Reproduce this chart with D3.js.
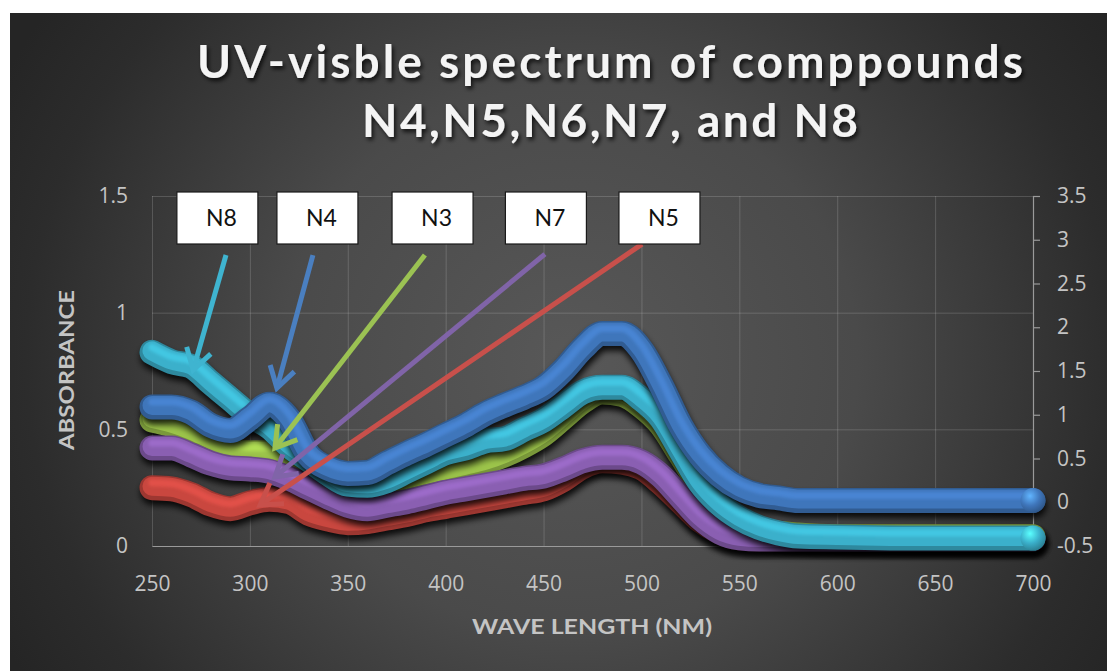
<!DOCTYPE html>
<html>
<head>
<meta charset="utf-8">
<script src="https://cdn.jsdelivr.net/npm/d3@7"></script>
<style>
  html, body { margin: 0; padding: 0; background: #ffffff; }
  svg { display: block; }
</style>
</head>
<body>
<svg id="chart" width="1107" height="671"></svg>
<script>
// Wavelength grid (nm)
const wavelengths = [250,260,270,280,290,300,310,320,330,340,350,360,370,380,390,400,410,420,430,440,
                     450,460,470,480,490,500,510,520,530,540,550,560,570,580,600,650,700];

// Absorbance of each compound (N4 is read on the secondary axis)
const n4 = [1.09,1.09,1.03,0.88,0.82,0.96,1.12,0.95,0.54,0.39,0.33,0.34,0.45,0.56,0.66,0.77,0.88,1.01,1.11,1.20,
            1.31,1.51,1.76,1.93,1.93,1.74,1.34,0.88,0.54,0.31,0.16,0.08,0.05,0.02,0.02,0.02,0.02];
const n8 = [0.83,0.79,0.77,0.70,0.63,0.56,0.51,0.43,0.37,0.31,0.265,0.26,0.28,0.32,0.36,0.40,0.42,0.45,0.46,0.50,
            0.54,0.60,0.66,0.68,0.68,0.63,0.55,0.41,0.27,0.18,0.12,0.08,0.056,0.043,0.039,0.034,0.034];
const n3 = [0.54,0.52,0.49,0.45,0.41,0.40,0.40,0.36,0.29,0.25,0.23,0.24,0.26,0.28,0.30,0.32,0.34,0.36,0.39,0.43,
            0.48,0.55,0.62,0.66,0.65,0.60,0.52,0.39,0.26,0.16,0.11,0.07,0.055,0.047,0.04,0.04,0.04];
const n7 = [0.42,0.42,0.39,0.355,0.335,0.33,0.32,0.29,0.25,0.21,0.175,0.16,0.175,0.19,0.21,0.23,0.245,0.26,0.275,0.29,
            0.30,0.33,0.365,0.38,0.38,0.36,0.30,0.21,0.12,0.06,0.035,0.03,0.03,0.03,0.03,0.03,0.03];
const n5 = [0.25,0.245,0.22,0.18,0.16,0.185,0.20,0.19,0.14,0.115,0.10,0.105,0.12,0.135,0.155,0.17,0.185,0.20,0.215,0.23,
            0.245,0.285,0.34,0.365,0.36,0.335,0.27,0.19,0.11,0.06,0.035,0.03,0.03,0.03,0.03,0.03,0.03];

// Tick values
const xTicks = [250,300,350,400,450,500,550,600,650,700];
const yLeftTicks = [0,0.5,1,1.5];
const yRightTicks = [-0.5,0,0.5,1,1.5,2,2.5,3,3.5];

// Callout labels: box centre wavelength, arrow tail and tip (wavelength, primary-axis absorbance)
const calloutNames   = ["N8","N4","N3","N7","N5"];
const calloutBoxWl   = [283.4,334.5,393.3,451.2,509.2];
const calloutTailWl  = [287.8,332.2,389.4,450.7,500.3];
const calloutTailAbs = [1.247,1.247,1.247,1.251,1.294];
const calloutTipWl   = [271.0,313.8,312.8,312.8,305.2];
const calloutTipAbs  = [0.754,0.677,0.42,0.296,0.176];
const calloutColors  = ["#3fb4d0","#4a7fc0","#9bc253","#8064a8","#c8504b"];

const svg = d3.select("#chart");
const W = 1107, H = 671;

const x  = d3.scaleLinear().domain([250,700]).range([152,1033]);
const yL = d3.scaleLinear().domain([0,1.5]).range([546,196]);
const yR = d3.scaleLinear().domain([-0.5,3.5]).range([546,196]);

const defs = svg.append("defs");

// Background radial shading
const bg = defs.append("radialGradient").attr("id","bgGrad")
  .attr("gradientUnits","userSpaceOnUse").attr("cx",570).attr("cy",360).attr("r",640)
  .attr("gradientTransform","translate(570,360) scale(1,0.95) translate(-570,-360)");
bg.append("stop").attr("offset",0).attr("stop-color","#585858");
bg.append("stop").attr("offset",0.45).attr("stop-color","#4a4a4a");
bg.append("stop").attr("offset",0.85).attr("stop-color","#2c2c2c");
bg.append("stop").attr("offset",1).attr("stop-color","#252525");

defs.append("filter").attr("id","tubeShadow").attr("x","-10%").attr("y","-10%").attr("width","120%").attr("height","130%")
  .append("feGaussianBlur").attr("stdDeviation",3);
defs.append("filter").attr("id","soft").attr("x","-10%").attr("y","-10%").attr("width","120%").attr("height","130%")
  .append("feGaussianBlur").attr("stdDeviation",1.6);
const ts = defs.append("filter").attr("id","titleShadow").attr("x","-5%").attr("y","-20%").attr("width","110%").attr("height","150%");
ts.append("feDropShadow").attr("dx",2).attr("dy",3).attr("stdDeviation",2).attr("flood-color","#000").attr("flood-opacity",0.75);

svg.append("rect").attr("x",10).attr("y",13).attr("width",W-10).attr("height",H-13).attr("fill","url(#bgGrad)");

const uiFont = "Lato, 'Open Sans', 'DejaVu Sans', sans-serif";

// Title
const title = svg.append("g").attr("filter","url(#titleShadow)")
  .attr("font-family",uiFont).attr("font-weight",700)
  .attr("fill","#f4f4f4").attr("text-anchor","middle");
title.append("text").attr("x",610).attr("y",78).attr("font-size",46)
  .attr("textLength",826).attr("lengthAdjust","spacing").text("UV-visble spectrum of comppounds");
title.append("text").attr("x",610).attr("y",137).attr("font-size",46)
  .attr("textLength",496).attr("lengthAdjust","spacing").text("N4,N5,N6,N7, and N8");

// Grid
const grid = svg.append("g").attr("stroke","rgba(255,255,255,0.16)").attr("stroke-width",1);
xTicks.forEach(t => grid.append("line").attr("x1",x(t)+0.5).attr("x2",x(t)+0.5).attr("y1",yL(1.5)).attr("y2",yL(0)));
yLeftTicks.forEach(t => grid.append("line").attr("x1",x(250)).attr("x2",x(700)).attr("y1",yL(t)+0.5).attr("y2",yL(t)+0.5));

const tickFont = "'Open Sans', 'DejaVu Sans', sans-serif";
function styleAxis(g){
  g.selectAll("text").attr("fill","#c4c4c4").attr("font-size",21).attr("font-family",tickFont);
}
const plain = d => String(d);

// Bottom axis
const xAxis = svg.append("g").attr("transform",`translate(0,${yL(0)})`)
  .call(d3.axisBottom(x).tickValues(xTicks).tickSize(0).tickPadding(30).tickFormat(plain));
xAxis.select(".domain").attr("stroke","#9a9a9a").attr("stroke-width",1.2);
styleAxis(xAxis);

// Left axis
const yAxisL = svg.append("g").attr("transform",`translate(${x(250)},0)`)
  .call(d3.axisLeft(yL).tickValues(yLeftTicks).tickSize(0).tickPadding(24).tickFormat(plain));
yAxisL.select(".domain").remove();
styleAxis(yAxisL);

// Right (secondary) axis
const yAxisR = svg.append("g").attr("transform",`translate(${x(700)},0)`)
  .call(d3.axisRight(yR).tickValues(yRightTicks).tickSizeOuter(0).tickSize(7).tickPadding(17).tickFormat(plain));
yAxisR.select(".domain").attr("stroke","#9a9a9a").attr("stroke-width",1.2);
yAxisR.selectAll(".tick line").attr("stroke","#9a9a9a").attr("stroke-width",1.2);
styleAxis(yAxisR);

// Axis titles
svg.append("text").attr("transform","translate(74,370) rotate(-90)")
  .attr("text-anchor","middle").attr("font-family",uiFont).attr("font-weight",700)
  .attr("font-size",20).attr("fill","#c4c4c4").attr("textLength",160).attr("lengthAdjust","spacingAndGlyphs")
  .text("ABSORBANCE");
svg.append("text").attr("x",592).attr("y",634)
  .attr("text-anchor","middle").attr("font-family",uiFont).attr("font-weight",700)
  .attr("font-size",20).attr("fill","#c4c4c4").attr("textLength",240).attr("lengthAdjust","spacingAndGlyphs")
  .text("WAVE LENGTH (NM)");

// Series, drawn back to front
const series = [
  {name:"N5", values:n5, scale:yL, color:"#c9473f"},
  {name:"N3", values:n3, scale:yL, color:"#9cc44a"},
  {name:"N7", values:n7, scale:yL, color:"#8a5fb2"},
  {name:"N8", values:n8, scale:yL, color:"#3bb0cb", endMarker:true},
  {name:"N4", values:n4, scale:yR, color:"#3f76bb", endMarker:true}
];

const tubes = svg.append("g");
series.forEach((s, si) => {
  const pts = wavelengths.map((w,i) => [x(w), s.scale(s.values[i])]);
  const line = d3.line().curve(d3.curveMonotoneX);
  const d = line(pts);
  const g = tubes.append("g").attr("fill","none").attr("stroke-linecap","round").attr("stroke-linejoin","round");
  const base = d3.color(s.color);
  g.append("path").attr("d",d).attr("stroke","#000").attr("stroke-opacity",0.85).attr("stroke-width",25)
    .attr("transform","translate(1,5)").attr("filter","url(#tubeShadow)");
  g.append("path").attr("d",d).attr("stroke",base.darker(0.7)).attr("stroke-width",25);
  g.append("path").attr("d",d).attr("stroke",base).attr("stroke-width",19).attr("transform","translate(0,-1.5)");
  g.append("path").attr("d",d).attr("stroke",base.brighter(0.7)).attr("stroke-opacity",0.45)
    .attr("stroke-width",7).attr("transform","translate(0,-5)").attr("filter","url(#soft)");

  if (s.endMarker) {
    const gid = "sphere" + si;
    const rg = defs.append("radialGradient").attr("id",gid).attr("cx","38%").attr("cy","32%").attr("r","70%");
    rg.append("stop").attr("offset",0).attr("stop-color",base.brighter(1.2));
    rg.append("stop").attr("offset",0.55).attr("stop-color",base);
    rg.append("stop").attr("offset",1).attr("stop-color",base.darker(0.9));
    const last = pts[pts.length-1];
    g.append("circle").attr("cx",last[0]).attr("cy",last[1]).attr("r",12.5).attr("fill",`url(#${gid})`);
  }
});

// Callouts
const callouts = svg.append("g");
calloutNames.forEach((name,i) => {
  const tx = x(calloutTailWl[i]), ty = yL(calloutTailAbs[i]);
  const px = x(calloutTipWl[i]),  py = yL(calloutTipAbs[i]);
  const ang = Math.atan2(py - ty, px - tx);
  const len = 24, spread = 0.55;
  const a1 = [px - len*Math.cos(ang - spread), py - len*Math.sin(ang - spread)];
  const a2 = [px - len*Math.cos(ang + spread), py - len*Math.sin(ang + spread)];
  callouts.append("line").attr("x1",tx).attr("y1",ty).attr("x2",px).attr("y2",py)
    .attr("stroke",calloutColors[i]).attr("stroke-width",5);
  callouts.append("path").attr("d",`M${a1[0]},${a1[1]}L${px},${py}L${a2[0]},${a2[1]}`)
    .attr("fill","none").attr("stroke",calloutColors[i]).attr("stroke-width",5).attr("stroke-linejoin","miter");

  const cx = x(calloutBoxWl[i]);
  callouts.append("rect").attr("x",cx-40.5).attr("y",192).attr("width",81).attr("height",52)
    .attr("fill","#ffffff").attr("stroke","#1a1a1a").attr("stroke-width",1.2);
  callouts.append("text").attr("x",cx+4).attr("y",226).attr("text-anchor","middle")
    .attr("font-family",uiFont).attr("font-size",23).attr("fill","#111")
    .text(name);
});
</script>
</body>
</html>
